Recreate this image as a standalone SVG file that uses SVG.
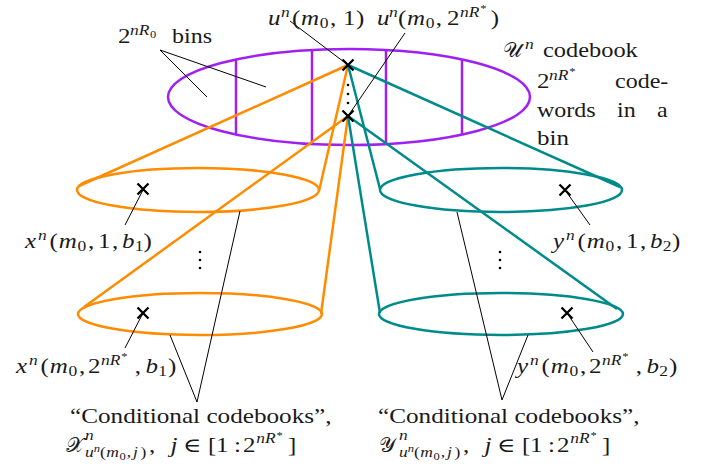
<svg xmlns="http://www.w3.org/2000/svg" width="702" height="466" viewBox="0 0 702 466">
<style>
text{font-family:"Liberation Serif","DejaVu Serif",serif;font-size:20px;fill:#1a1a1a}
.i{font-style:italic}
.s{font-size:14px}
.ss{font-size:10px}
.cal{font-size:21px;font-style:normal}
.pu{fill:none;stroke:#a020f0;stroke-width:2.5}
.or{fill:none;stroke:#ff8c00;stroke-width:2.5}
.te{fill:none;stroke:#008b8b;stroke-width:2.5}
.ld{fill:none;stroke:#000;stroke-width:1}
.cx{stroke:#000;stroke-width:2.3;fill:none}
.dot{fill:#000}
</style>
<defs>
<path id="x" d="M-5.5,-5.5L5.5,5.5M-5.5,5.5L5.5,-5.5"/>
</defs>
<rect width="702" height="466" fill="#fff"/>

<g id="u-codebook">
<ellipse class="pu" cx="349" cy="97" rx="181" ry="48"/>
<line class="pu" x1="236" y1="59.5" x2="236" y2="134.5"/>
<line class="pu" x1="312" y1="50" x2="312" y2="143.5"/>
<line class="pu" x1="386" y1="50" x2="386" y2="143.5"/>
<line class="pu" x1="462" y1="59.5" x2="462" y2="134.5"/>
</g>

<g id="x-codebook-1"><ellipse class="or" cx="198" cy="190" rx="121" ry="22"/></g>
<g id="x-codebook-2"><ellipse class="or" cx="200" cy="314" rx="122" ry="21"/></g>
<g id="y-codebook-1"><ellipse class="te" cx="501" cy="190" rx="121" ry="22"/></g>
<g id="y-codebook-2"><ellipse class="te" cx="501" cy="314" rx="122" ry="21"/></g>

<g id="connectors">
<line class="or" x1="348" y1="65" x2="79" y2="186"/>
<line class="or" x1="348" y1="65" x2="319" y2="191"/>
<line class="or" x1="348" y1="116" x2="84" y2="307"/>
<line class="or" x1="348" y1="116" x2="321" y2="314"/>
<line class="te" x1="348" y1="65" x2="380" y2="189"/>
<line class="te" x1="348" y1="65" x2="620" y2="187"/>
<line class="te" x1="348" y1="116" x2="380" y2="313"/>
<line class="te" x1="348" y1="116" x2="617" y2="309"/>
<line class="ld" x1="160" y1="50" x2="207" y2="97"/>
<line class="ld" x1="160" y1="50" x2="266" y2="87"/>
<line class="ld" x1="290" y1="21" x2="348" y2="65"/>
<line class="ld" x1="405" y1="33" x2="348" y2="116"/>
<line class="ld" x1="125" y1="225" x2="143" y2="190"/>
<line class="ld" x1="125" y1="348" x2="143" y2="313"/>
<line class="ld" x1="590" y1="225" x2="565" y2="190"/>
<line class="ld" x1="593" y1="352" x2="567" y2="313"/>
<line class="ld" x1="197" y1="402" x2="240" y2="211"/>
<line class="ld" x1="197" y1="402" x2="170" y2="335"/>
<line class="ld" x1="502" y1="400" x2="457" y2="212"/>
<line class="ld" x1="502" y1="400" x2="528" y2="335"/>
</g>

<g id="markers">
<use href="#x" class="cx" x="348" y="65"/>
<use href="#x" class="cx" x="348" y="116"/>
<use href="#x" class="cx" x="143" y="189"/>
<use href="#x" class="cx" x="143" y="313"/>
<use href="#x" class="cx" x="565" y="190"/>
<use href="#x" class="cx" x="567" y="313"/>
<circle class="dot" cx="348" cy="85" r="1.3"/><circle class="dot" cx="348" cy="94" r="1.3"/><circle class="dot" cx="348" cy="103" r="1.3"/>
<circle class="dot" cx="200" cy="252" r="1.3"/><circle class="dot" cx="200" cy="260" r="1.3"/><circle class="dot" cx="200" cy="268" r="1.3"/>
<circle class="dot" cx="500" cy="252" r="1.3"/><circle class="dot" cx="500" cy="260" r="1.3"/><circle class="dot" cx="500" cy="268" r="1.3"/>
</g>

<g id="labels">
<text transform="translate(118,43) scale(1.25,1)"><tspan x="0" y="0">2</tspan><tspan class="s i" x="9.6" y="-8">nR</tspan><tspan class="ss" x="25.6" y="-5">0</tspan></text>
<text transform="translate(172,43) scale(1.2,1)">bins</text>

<text transform="translate(268,25) scale(1.25,1)"><tspan class="i" x="0" y="0">u</tspan><tspan class="s i" x="10.4" y="-8">n</tspan><tspan x="19.2" y="0">(</tspan><tspan class="i" x="26.4" y="0">m</tspan><tspan class="s" x="41.4" y="3">0</tspan><tspan x="49.6" y="0">,</tspan><tspan x="60" y="0">1</tspan><tspan x="70.4" y="0">)</tspan></text>

<text transform="translate(377,25) scale(1.25,1)"><tspan class="i" x="0" y="0">u</tspan><tspan class="s i" x="9.6" y="-8">n</tspan><tspan x="16.8" y="0">(</tspan><tspan class="i" x="24" y="0">m</tspan><tspan class="s" x="39" y="3">0</tspan><tspan x="47" y="0">,</tspan><tspan x="56" y="0">2</tspan><tspan class="s i" x="66.4" y="-8">nR</tspan><tspan class="ss" x="82.6" y="-13">*</tspan><tspan x="91" y="0">)</tspan></text>

<text class="cal" x="503" y="57">𝒰</text>
<text transform="translate(525,49) scale(1.25,1)" class="s i">n</text>
<text transform="translate(543,57) scale(1.22,1)">codebook</text>
<text transform="translate(537,88) scale(1.25,1)"><tspan x="0" y="0">2</tspan><tspan class="s i" x="9.6" y="-8">nR</tspan><tspan class="ss" x="25.8" y="-13">*</tspan></text>
<text transform="translate(615,88) scale(1.2,1)">code-</text>
<text transform="translate(537,117) scale(1.2,1)">words</text>
<text transform="translate(617,117) scale(1.2,1)">in</text>
<text transform="translate(657,117) scale(1.2,1)">a</text>
<text transform="translate(537,145) scale(1.25,1)">bin</text>

<text transform="translate(25,248) scale(1.25,1)"><tspan class="i" x="0" y="0">x</tspan><tspan class="s i" x="10.4" y="-8">n</tspan><tspan x="19.6" y="0">(</tspan><tspan class="i" x="27" y="0">m</tspan><tspan class="s" x="42" y="3">0</tspan><tspan x="50.4" y="0">,</tspan><tspan x="58.4" y="0">1</tspan><tspan x="69.6" y="0">,</tspan><tspan class="i" x="77.6" y="0">b</tspan><tspan class="s" x="87.8" y="3">1</tspan><tspan x="94.8" y="0">)</tspan></text>

<text transform="translate(16,373) scale(1.25,1)"><tspan class="i" x="0" y="0">x</tspan><tspan class="s i" x="10.4" y="-8">n</tspan><tspan x="19.6" y="0">(</tspan><tspan class="i" x="27" y="0">m</tspan><tspan class="s" x="42" y="3">0</tspan><tspan x="50.4" y="0">,</tspan><tspan x="57.6" y="0">2</tspan><tspan class="s i" x="68" y="-8">nR</tspan><tspan class="ss" x="84.2" y="-13">*</tspan><tspan x="95" y="0">,</tspan><tspan class="i" x="103.6" y="0">b</tspan><tspan class="s" x="113.8" y="3">1</tspan><tspan x="121.6" y="0">)</tspan></text>

<text transform="translate(553,248) scale(1.25,1)"><tspan class="i" x="0" y="0">y</tspan><tspan class="s i" x="10.4" y="-8">n</tspan><tspan x="19.6" y="0">(</tspan><tspan class="i" x="27" y="0">m</tspan><tspan class="s" x="42" y="3">0</tspan><tspan x="50.4" y="0">,</tspan><tspan x="58.4" y="0">1</tspan><tspan x="69.6" y="0">,</tspan><tspan class="i" x="77.6" y="0">b</tspan><tspan class="s" x="87.8" y="3">2</tspan><tspan x="95.2" y="0">)</tspan></text>

<text transform="translate(517,373) scale(1.25,1)"><tspan class="i" x="0" y="0">y</tspan><tspan class="s i" x="10.4" y="-8">n</tspan><tspan x="19.6" y="0">(</tspan><tspan class="i" x="27" y="0">m</tspan><tspan class="s" x="42" y="3">0</tspan><tspan x="50.4" y="0">,</tspan><tspan x="57.6" y="0">2</tspan><tspan class="s i" x="68" y="-8">nR</tspan><tspan class="ss" x="84.2" y="-13">*</tspan><tspan x="95" y="0">,</tspan><tspan class="i" x="103.6" y="0">b</tspan><tspan class="s" x="113.8" y="3">2</tspan><tspan x="121.6" y="0">)</tspan></text>

<text transform="translate(70,423) scale(1.26,1)">“Conditional codebooks”,</text>
<text class="cal" x="66" y="452">𝒳</text>
<text transform="translate(83,452) scale(1.25,1)"><tspan class="s i" x="1.6" y="-12">n</tspan><tspan class="s i" x="1.6" y="5">u</tspan><tspan class="ss i" x="8.6" y="0">n</tspan><tspan class="s" x="13.6" y="5">(</tspan><tspan class="s i" x="18.6" y="5">m</tspan><tspan class="ss" x="29.2" y="8">0</tspan><tspan class="s" x="35" y="5">,</tspan><tspan class="s i" x="40" y="5">j</tspan><tspan class="s" x="46" y="5">)</tspan><tspan x="52.8" y="0">,</tspan><tspan class="i" x="70" y="0">j</tspan><tspan x="80" y="0">∈</tspan><tspan x="100" y="0">[</tspan><tspan x="106.4" y="0">1</tspan><tspan x="120.8" y="0">:</tspan><tspan x="128" y="0">2</tspan><tspan class="s i" x="138.6" y="-9">nR</tspan><tspan class="ss" x="154.8" y="-13">*</tspan><tspan x="164" y="0">]</tspan></text>

<text transform="translate(378,423) scale(1.26,1)">“Conditional codebooks”,</text>
<text class="cal" x="379" y="452">𝒴</text>
<text transform="translate(397,452) scale(1.25,1)"><tspan class="s i" x="1.6" y="-12">n</tspan><tspan class="s i" x="1.6" y="5">u</tspan><tspan class="ss i" x="8.6" y="0">n</tspan><tspan class="s" x="13.6" y="5">(</tspan><tspan class="s i" x="18.6" y="5">m</tspan><tspan class="ss" x="29.2" y="8">0</tspan><tspan class="s" x="35" y="5">,</tspan><tspan class="s i" x="40" y="5">j</tspan><tspan class="s" x="46" y="5">)</tspan><tspan x="52.8" y="0">,</tspan><tspan class="i" x="70" y="0">j</tspan><tspan x="80" y="0">∈</tspan><tspan x="100" y="0">[</tspan><tspan x="106.4" y="0">1</tspan><tspan x="120.8" y="0">:</tspan><tspan x="128" y="0">2</tspan><tspan class="s i" x="138.6" y="-9">nR</tspan><tspan class="ss" x="154.8" y="-13">*</tspan><tspan x="164" y="0">]</tspan></text>
</g>
</svg>
